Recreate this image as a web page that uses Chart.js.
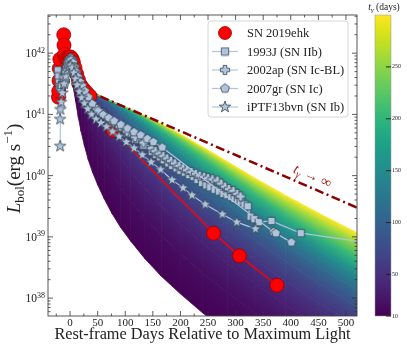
<!DOCTYPE html>
<html><head><meta charset="utf-8">
<script src="https://cdn.jsdelivr.net/npm/chart.js@4/dist/chart.umd.min.js"></script>
<style>html,body{margin:0;padding:0;background:#fff;}#wrap{position:relative;width:407px;height:349px;}canvas{position:absolute;top:0;}</style>
</head><body><div id="wrap"><canvas id="main" width="407" height="349" style="left:0;width:407px;height:349px"></canvas><canvas id="cb" width="47" height="349" style="left:360px;width:47px;height:349px"></canvas></div>
<script>
// ---------------- data (log10 L in erg/s, days from max light) ----------------
const sn2019ehkDays = [-21,-20.5,-20,-19.5,-18.5,-11.5,-11,-10,-8,-6,-4,-2,0,2,4,6,9,12,15,19,24,30,36,78,260,307,375];
const sn2019ehkLogL = [41.28,41.38,41.55,41.75,41.9,42.3,42.13,41.98,41.92,41.9,41.9,41.92,41.94,41.93,41.9,41.85,41.76,41.66,41.57,41.48,41.42,41.36,41.3,40.74,39.06,38.69,38.21];

const sn1993jDays = [-22,-21,-20,-19,-17,-15,-12,-9,-6,-3,0,3,6,9,12,15,19,23,28,34,41,49,58,68,79,91,104,118,133,148,156,163,170,178,185,193,200,208,216,224,231,239,247,254,262,270,278,285,292,298,304,309,316,322,327,334,342,365,418,560];
const sn1993jLogL = [41.72,41.62,41.52,41.45,41.42,41.48,41.6,41.7,41.78,41.83,41.85,41.82,41.76,41.68,41.6,41.52,41.43,41.36,41.29,41.22,41.15,41.08,41.01,40.94,40.86,40.78,40.69,40.59,40.49,40.39,40.34,40.3,40.25,40.2,40.16,40.12,40.08,40.05,40.01,39.98,39.93,39.88,39.84,39.81,39.77,39.74,39.7,39.68,39.65,39.62,39.6,39.57,39.53,39.5,39.33,39.29,39.24,39.26,39.06,38.88];

const sn2002apDays = [-9,-7,-5,-3,-1,1,3,5,8,11,14,18,22,27,33,40,48,57,67,78,90,103,118,133,148,155,162,169,176,183,190,198,205,212,220,228,235,243,250,258,267,274,281,288,296,303,309];
const sn2002apLogL = [41.55,41.68,41.78,41.85,41.9,41.92,41.9,41.86,41.78,41.68,41.58,41.48,41.4,41.32,41.24,41.16,41.09,41.02,40.95,40.87,40.8,40.72,40.63,40.54,40.45,40.4,40.36,40.32,40.28,40.24,40.2,40.16,40.12,40.09,40.06,40.03,40.0,39.98,39.96,39.94,39.92,39.87,39.82,39.78,39.75,39.7,39.66];

const sn2007grDays = [-10,-7,-4,-1,2,5,8,11,14,18,22,27,33,40,51,60,70,80,92,104,116,128,140,151,167,369,373,401];
const sn2007grLogL = [41.5,41.68,41.8,41.86,41.88,41.84,41.77,41.69,41.61,41.53,41.46,41.38,41.28,41.17,41.05,40.99,40.94,40.89,40.83,40.77,40.71,40.66,40.6,40.55,40.46,39.08,39.06,38.91];

const iptf13bvnDays = [-18,-18,-17.5,-16,-14,-11,-8,-5,-2,1,4,7,10,13,17,21,26,32,39,47,56,66,77,89,102,116,131,147,164,185,205,221,245,276,302,336];
const iptf13bvnLogL = [40.48,40.92,41.08,41.2,41.35,41.5,41.62,41.72,41.78,41.8,41.76,41.68,41.58,41.48,41.37,41.27,41.18,41.09,41.0,40.92,40.86,40.8,40.72,40.64,40.55,40.45,40.34,40.22,40.1,39.93,39.8,39.68,39.53,39.37,39.24,39.13];

// full-trapping line (t_gamma -> infinity)
const tInfDays = [25, 522];
const tInfLogL = [41.41, 39.47];

// model band: contours of constant t_gamma (days), sampled at modelDays
const modelDays = [2,6,10,15,20,26,33,41,50,62,76,92,110,135,165,200,240,285,335,390,450,530];
const tGammaLevels = [10,20,35,55,80,110,150,200,250,300];
const bandTg10  = [41.50,41.43,41.22,40.95,40.72,40.49,40.26,40.05,39.85,39.62,39.38,39.15,38.93,38.65,38.36,38.07,37.76,37.45,37.12,36.78,36.43,35.97];
const bandTg20  = [41.50,41.49,41.46,41.37,41.23,41.06,40.87,40.68,40.49,40.26,40.04,39.82,39.59,39.32,39.03,38.73,38.41,38.09,37.76,37.41,37.05,36.60];
const bandTg35  = [41.50,41.49,41.47,41.45,41.41,41.33,41.21,41.06,40.90,40.70,40.50,40.28,40.07,39.80,39.51,39.21,38.90,38.57,38.24,37.89,37.54,37.08];
const bandTg55  = [41.50,41.49,41.47,41.45,41.43,41.40,41.35,41.27,41.16,41.00,40.82,40.63,40.43,40.17,39.89,39.59,39.28,38.96,38.63,38.28,37.93,37.47];
const bandTg80  = [41.50,41.49,41.47,41.45,41.43,41.41,41.38,41.34,41.28,41.18,41.04,40.88,40.70,40.46,40.19,39.90,39.60,39.28,38.95,38.60,38.25,37.80];
const bandTg110 = [41.50,41.49,41.47,41.45,41.43,41.41,41.38,41.35,41.31,41.25,41.16,41.03,40.88,40.67,40.42,40.15,39.85,39.54,39.21,38.87,38.52,38.07];
const bandTg150 = [41.50,41.49,41.47,41.45,41.43,41.41,41.38,41.35,41.32,41.27,41.21,41.12,41.01,40.84,40.62,40.36,40.08,39.78,39.46,39.13,38.78,38.33];
const bandTg200 = [41.50,41.49,41.47,41.45,41.43,41.41,41.38,41.35,41.32,41.27,41.21,41.15,41.07,40.93,40.75,40.53,40.27,39.99,39.68,39.35,39.01,38.57];
const bandTg250 = [41.50,41.49,41.47,41.45,41.43,41.41,41.38,41.35,41.32,41.27,41.21,41.15,41.08,40.97,40.82,40.63,40.40,40.13,39.83,39.53,39.22,38.82];
const bandTg300 = [41.50,41.49,41.47,41.45,41.43,41.41,41.38,41.35,41.32,41.27,41.21,41.15,41.08,40.98,40.85,40.68,40.47,40.23,39.96,39.68,39.39,39.02];
const bandRows = [bandTg10,bandTg20,bandTg35,bandTg55,bandTg80,bandTg110,bandTg150,bandTg200,bandTg250,bandTg300];

// axes / ticks
const xTickVals = [0,50,100,150,200,250,300,350,400,450,500];
const yDecades = [38,39,40,41,42];
const cbMin = 10, cbMax = 300;
const cbTicks = [10,50,100,150,200,250];

// ---------------- styling ----------------
const FONT = "'Liberation Serif','Times New Roman',serif";
const MFILL = '#b0c4de', MEDGE = '#34444f', MLINE = '#b0c4de';
const VIR = ['#440154','#471365','#482475','#463480','#414487','#3b528b','#355f8d','#2f6c8e','#2a788e','#25848e','#21918c','#1e9c89','#22a884','#2fb47c','#44bf70','#5ec962','#7ad151','#9bd93c','#bddf26','#dfe318','#fde725'];
function hexRGB(h){return [parseInt(h.slice(1,3),16),parseInt(h.slice(3,5),16),parseInt(h.slice(5,7),16)];}
function viridis(t){
  t=Math.min(1,Math.max(0,t)); const f=t*20; const i=Math.min(19,Math.floor(f)); const u=f-i;
  const a=hexRGB(VIR[i]), b=hexRGB(VIR[i+1]);
  return 'rgb('+a.map((v,k)=>Math.round(v+(b[k]-v)*u)).join(',')+')';
}
const pts = (d,l) => d.map((x,i)=>({x, y: Math.pow(10, l[i])}));

function marker(size, path){
  const c=document.createElement('canvas'); c.width=c.height=size;
  const g=c.getContext('2d'); g.translate(size/2,size/2); g.beginPath(); path(g); g.closePath();
  g.fillStyle=MFILL; g.fill(); g.lineWidth=0.8; g.strokeStyle=MEDGE; g.stroke(); return c;
}
const mSquare = marker(10, g=>g.rect(-3.7,-3.7,7.4,7.4));
const mPlus = marker(12, g=>{const a=1.8,b=4.6; g.moveTo(-a,-b);g.lineTo(a,-b);g.lineTo(a,-a);g.lineTo(b,-a);g.lineTo(b,a);g.lineTo(a,a);g.lineTo(a,b);g.lineTo(-a,b);g.lineTo(-a,a);g.lineTo(-b,a);g.lineTo(-b,-a);g.lineTo(-a,-a);});
const mPent = marker(12, g=>{for(let k=0;k<5;k++){const an=-Math.PI/2+k*2*Math.PI/5; const R=4.7; k?g.lineTo(R*Math.cos(an),R*Math.sin(an)):g.moveTo(R*Math.cos(an),R*Math.sin(an));}});
const mStar = marker(14, g=>{for(let k=0;k<10;k++){const an=-Math.PI/2+k*Math.PI/5; const R=k%2?2.4:6; k?g.lineTo(R*Math.cos(an),R*Math.sin(an)):g.moveTo(R*Math.cos(an),R*Math.sin(an));}});

function drawRich(ctx, segs, x, y, align){
  let w=0; const ms=segs.map(s=>{ctx.font=(s[2]?'italic ':'')+s[1]+'px '+FONT; const m=ctx.measureText(s[0]).width; w+=m; return m;});
  let cx = align==='center'? x-w/2 : align==='right'? x-w : x;
  ctx.textAlign='left'; ctx.textBaseline='alphabetic';
  segs.forEach((s,i)=>{ctx.font=(s[2]?'italic ':'')+s[1]+'px '+FONT; ctx.fillText(s[0],cx,y+(s[3]||0)); cx+=ms[i];});
  return w;
}

// ---------------- plugins ----------------
const bandPlugin = {
  id:'band',
  beforeDatasetsDraw(chart){
    const {ctx, chartArea:a, scales:{x,y}} = chart;
    ctx.save();
    ctx.setLineDash([]);
    ctx.beginPath(); ctx.rect(a.left,a.top,a.right-a.left,a.bottom-a.top); ctx.clip();
    const px = modelDays.map(d=>x.getPixelForValue(d));
    const rows = bandRows.map(r=>r.map(v=>y.getPixelForValue(Math.pow(10,v))));
    const cols = tGammaLevels.map(t=>viridis((t-cbMin)/(cbMax-cbMin)));
    for(let k=0;k<rows.length-1;k++){
      const lo=rows[k], hi=rows[k+1];
      for(let i=0;i<px.length-1;i++){
        const x0=px[i], x1=px[i+1], mx=(x0+x1)/2;
        const myA=(lo[i]+lo[i+1])/2, myB=(hi[i]+hi[i+1])/2;
        let fill;
        if(Math.abs(myA-myB)<0.3){ fill=cols[k]; }
        else{
          const s=((lo[i+1]+hi[i+1])/2-(lo[i]+hi[i])/2)/(x1-x0);
          const nn=Math.sqrt(1+s*s); const d=(myB-myA)/nn;
          const g=ctx.createLinearGradient(mx,myA,mx-s*d/nn,myA+d/nn);
          g.addColorStop(0,cols[k]); g.addColorStop(1,cols[k+1]); fill=g;
        }
        ctx.beginPath(); ctx.moveTo(x0,lo[i]); ctx.lineTo(x1,lo[i+1]); ctx.lineTo(x1,hi[i+1]); ctx.lineTo(x0,hi[i]); ctx.closePath();
        ctx.fillStyle=fill; ctx.fill(); ctx.strokeStyle=fill; ctx.lineWidth=0.8; ctx.stroke();
      }
    }
    ctx.restore();
  }
};

const framePlugin = {
  id:'frame',
  afterDatasetsDraw(chart){
    const {ctx, chartArea:a, scales:{x,y}} = chart;
    ctx.save();
    ctx.setLineDash([]);
    const p0x=x.getPixelForValue(tInfDays[0]), p0y=y.getPixelForValue(Math.pow(10,tInfLogL[0]));
    const p1x=x.getPixelForValue(tInfDays[1]), p1y=y.getPixelForValue(Math.pow(10,tInfLogL[1]));
    const ang=Math.atan2(p1y-p0y,p1x-p0x);
    ctx.save(); ctx.translate(x.getPixelForValue(440), y.getPixelForValue(1e40)); ctx.rotate(ang);
    ctx.fillStyle='#9a1a1a';
    drawRich(ctx,[['t',14.5,true,0],['γ',10,true,3],[' → ∞',14.5,false,0]],0,5,'center');
    ctx.restore();
    ctx.strokeStyle='#444'; ctx.lineWidth=0.9;
    ctx.strokeRect(a.left,a.top,a.right-a.left,a.bottom-a.top);
    ctx.strokeStyle='#333'; ctx.lineWidth=0.8;
    ctx.beginPath();
    for(let v=-25; v<=x.max; v+=25){
      const p=x.getPixelForValue(v); if(p<a.left||p>a.right) continue;
      const len = (v%50===0)?5:2.5;
      ctx.moveTo(p,a.bottom); ctx.lineTo(p,a.bottom-len);
      ctx.moveTo(p,a.top); ctx.lineTo(p,a.top+len);
    }
    for(let e=37;e<=42;e++){
      for(let m=1;m<10;m++){
        const v=m*Math.pow(10,e); if(v<y.min||v>y.max) continue;
        const p=y.getPixelForValue(v); const len=(m===1)?5:2.5;
        ctx.moveTo(a.left,p); ctx.lineTo(a.left+len,p);
        ctx.moveTo(a.right,p); ctx.lineTo(a.right-len,p);
      }
    }
    ctx.stroke();
    ctx.fillStyle='#222';
    yDecades.forEach(e=>{
      const p=y.getPixelForValue(Math.pow(10,e));
      ctx.font='11.5px '+FONT; const w1=ctx.measureText('10').width;
      ctx.font='8px '+FONT; const w2=ctx.measureText(String(e)).width;
      const x0=a.left-3-w1-w2;
      ctx.textAlign='left'; ctx.textBaseline='alphabetic';
      ctx.font='11.5px '+FONT; ctx.fillText('10',x0,p+4);
      ctx.font='8px '+FONT; ctx.fillText(String(e),x0+w1,p-0.5);
    });
    ctx.save(); ctx.translate(20,(a.top+a.bottom)/2+3); ctx.rotate(-Math.PI/2);
    drawRich(ctx,[['L',19,true,0],['bol',13,false,4],['(erg s',19,false,0],['−1',13,false,-8],[')',19,false,0]],0,0,'center');
    ctx.restore();
    ctx.restore();
  },
  afterDraw(chart){
    const ctx=chart.ctx; ctx.save(); ctx.setLineDash([]);
    const bx=208, by=21, bw=140, bh=96, r=3;
    ctx.beginPath(); ctx.roundRect(bx,by,bw,bh,r);
    ctx.fillStyle='rgba(255,255,255,0.85)'; ctx.fill(); ctx.strokeStyle='#cccccc'; ctx.lineWidth=0.8; ctx.stroke();
    const ds=chart.data.datasets;
    [1,2,3,4,5].forEach((di,i)=>{
      const d=ds[di]; const cy=33+i*18.5;
      if(d.legendLine){ ctx.strokeStyle=d.borderColor; ctx.lineWidth=1.2; ctx.beginPath(); ctx.moveTo(212,cy); ctx.lineTo(238,cy); ctx.stroke(); }
      if(d.pointStyle && typeof d.pointStyle==='object'){ ctx.drawImage(d.pointStyle,225-d.pointStyle.width/2,cy-d.pointStyle.height/2); }
      else { ctx.beginPath(); ctx.arc(225,cy,6.5,0,Math.PI*2); ctx.fillStyle=d.pointBackgroundColor; ctx.fill(); ctx.strokeStyle=d.pointBorderColor; ctx.lineWidth=0.8; ctx.stroke(); }
      ctx.fillStyle='#222'; ctx.font='12.5px '+FONT; ctx.textAlign='left'; ctx.textBaseline='middle';
      ctx.fillText(d.label,247,cy+1);
    });
    ctx.restore();
  }
};

const compStyle = (label, data, ps, order) => ({label, data, borderColor:MLINE, borderWidth:1.2, borderDash:[], pointStyle:ps, pointRadius:4, pointHoverRadius:4, order, legendLine:true, tension:0});

new Chart(document.getElementById('main'), {
  type:'line',
  data:{datasets:[
    {label:'tinf', data:pts(tInfDays,tInfLogL), borderColor:'#8b0000', borderWidth:2.5, borderDash:[9,3.5,2,3.5], pointRadius:0, order:10},
    {label:'SN 2019ehk', data:pts(sn2019ehkDays,sn2019ehkLogL), borderColor:'#ff0000', borderWidth:1.4, borderDash:[], pointBackgroundColor:'#ff0000', pointBorderColor:'#9a0000', pointBorderWidth:0.8, pointRadius:7, pointHoverRadius:7, order:9, legendLine:false},
    compStyle('1993J (SN IIb)', pts(sn1993jDays,sn1993jLogL), mSquare, 8),
    compStyle('2002ap (SN Ic-BL)', pts(sn2002apDays,sn2002apLogL), mPlus, 7),
    compStyle('2007gr (SN Ic)', pts(sn2007grDays,sn2007grLogL), mPent, 6),
    compStyle('iPTF13bvn (SN Ib)', pts(iptf13bvnDays,iptf13bvnLogL), mStar, 5)
  ]},
  options:{
    responsive:false, animation:false, events:[],
    layout:{padding:{left:0,right:50,top:15,bottom:0}},
    plugins:{legend:{display:false}, tooltip:{enabled:false}},
    scales:{
      x:{type:'linear', min:-40, max:520,
        afterBuildTicks:s=>{s.ticks=xTickVals.map(v=>({value:v}));},
        afterFit:s=>{s.height=33;},
        grid:{display:false,drawTicks:false}, border:{display:false},
        ticks:{autoSkip:false,maxRotation:0,padding:1,font:{family:FONT,size:11},color:'#222',callback:v=>String(v)},
        title:{display:true,text:'Rest-frame Days Relative to Maximum Light',font:{family:FONT,size:16.3},color:'#222',padding:{top:0,bottom:4}}},
      y:{type:'logarithmic', min:5.1e37, max:4.2e42,
        afterFit:s=>{s.width=48;},
        grid:{display:false,drawTicks:false}, border:{display:false}, ticks:{display:false}}
    }
  },
  plugins:[bandPlugin, framePlugin]
});

// ---------------- colorbar ----------------
const cbPlugin = {
  id:'cbpaint',
  beforeDatasetsDraw(chart){
    const {ctx, chartArea:a} = chart; ctx.save();
    const g=ctx.createLinearGradient(0,a.bottom,0,a.top);
    VIR.forEach((c,i)=>g.addColorStop(i/20,c));
    ctx.fillStyle=g; ctx.fillRect(a.left,a.top,a.right-a.left,a.bottom-a.top);
    ctx.strokeStyle='#999'; ctx.lineWidth=0.5; ctx.strokeRect(a.left,a.top,a.right-a.left,a.bottom-a.top);
    const ys=chart.scales.y; ctx.strokeStyle='#222'; ctx.lineWidth=1; ctx.beginPath();
    cbTicks.forEach(v=>{const p=ys.getPixelForValue(v); ctx.moveTo(a.right-5,p); ctx.lineTo(a.right,p);});
    ctx.stroke();
    ctx.fillStyle='#222';
    drawRich(ctx,[['t',9.5,true,0],['γ',7,true,2],[' (days)',9.5,false,0]],(a.left+a.right)/2+1,10,'center');
    ctx.restore();
  }
};
new Chart(document.getElementById('cb'), {
  type:'scatter',
  data:{datasets:[{data:[]}]},
  options:{
    responsive:false, animation:false, events:[],
    layout:{padding:{left:15,top:15,bottom:33,right:0}},
    plugins:{legend:{display:false}, tooltip:{enabled:false}},
    scales:{
      x:{display:false,min:0,max:1},
      y:{position:'right',min:cbMin,max:cbMax,
        afterBuildTicks:s=>{s.ticks=cbTicks.map(v=>({value:v}));},
        afterFit:s=>{s.width=16;},
        grid:{display:false,drawTicks:false}, border:{display:false},
        ticks:{autoSkip:false,padding:1,font:{family:FONT,size:6},color:'#222',callback:v=>String(v)}}
    }
  },
  plugins:[cbPlugin]
});
</script></body></html>
